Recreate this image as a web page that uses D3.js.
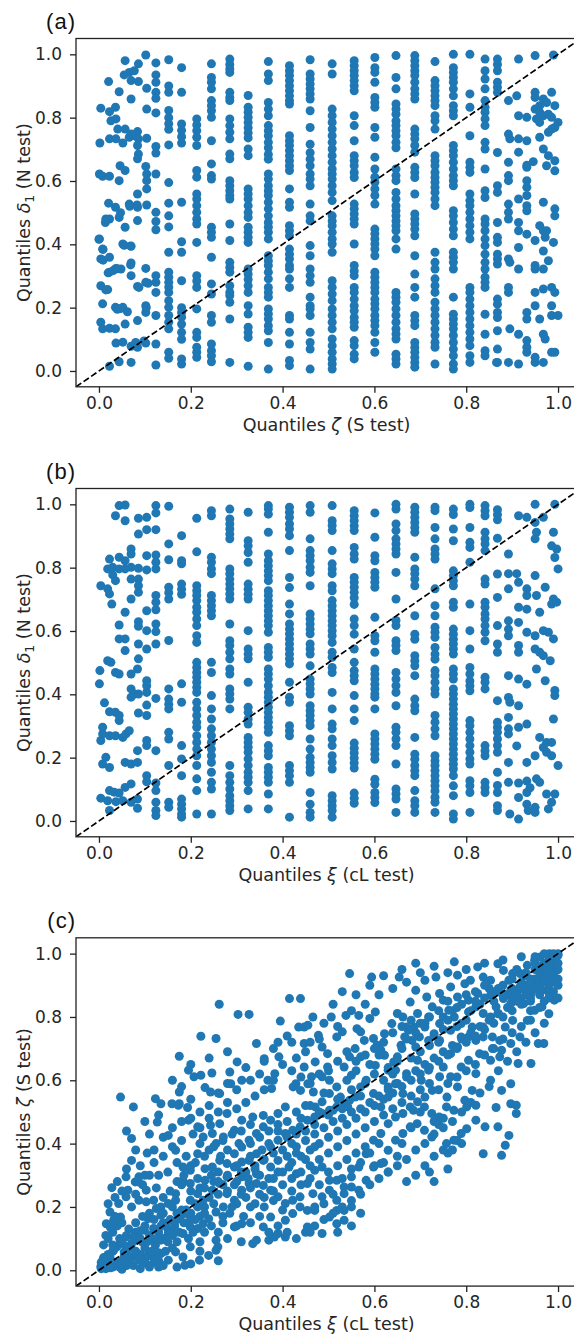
<!DOCTYPE html>
<html><head><meta charset="utf-8">
<script src="https://cdn.jsdelivr.net/npm/d3@7"></script>
<style>body{margin:0;background:#fff}svg{display:block}</style>
</head><body>
<svg id="chart" width="574" height="1338"></svg>
<script>
// ---------- DATA (values in percent of quantile) ----------
const tickValues = [0, 0.2, 0.4, 0.6, 0.8, 1.0];
const panelLabels = ["(a)", "(b)", "(c)"];

// Panel (a): discrete columns of the zeta quantile
const colsA_x = [12.4, 15.2, 18, 21.3, 24.5, 28.5, 32.5, 36.9, 41.5, 46, 50.8, 55.6, 60.1, 64.7, 68.8, 73.2, 77.2, 80.8, 84.1, 86.8];
const colsA_y = [
 [97.3,93.5,91.2,88,86.1,81.5,70.9,68.8,62.2,50.1,47.2,44.6,30.1,28,24.8,17.5,8.5,1.9],
 [98.3,90,88,82.3,80,78.1,76.3,71.4,59.5,53,49,45.5,37.5,31.2,29.6,28,26.5,24.8,22.2,20.1,17.5,15.4,13.3,5.9,4],
 [95.8,88,78,76,74,72,53.3,40.8,37.5,28.5,20,18.5,17,14.8,12.2,10,3.8,2.2],
 [79.6,77.7,75.9,73.8,71.2,63.3,61.2,55.9,54.3,52.2,50.1,48,46.4,40.6,30.1,28.4,26.4,19.6,12.2,10.6,7.5,5.9,4.3],
 [97,92.7,91.2,89.1,85.4,83.8,82.2,80.1,72.7,65.4,61.7,60.6,45.4,43.8,42.2,35.9,27.5,24.3,17.5,15.4,8.5,6.4,4.8,2.9],
 [98.5,96.8,95.4,94.3,88,86.4,85.4,79.6,77.5,75.4,73.3,68.5,67,60.1,58.5,56.9,55.4,54.3,46.4,41.2,34.3,32.7,31.2,26.9,24.8,23.8,21.7,16.4,2.7],
 [87,83.3,81.7,80.1,78.5,76.8,75.2,73.6,70.1,68,57.5,55.9,54.3,52.2,50.1,48.5,45.4,43.8,42.2,40.6,32.2,30.6,28.9,26.9,24.8,20.6,18,13.8,12.2,10.6,1.5],
 [97.7,93.8,91.7,84.8,82.7,80.6,77.5,75.9,74.3,72.2,70.5,68.4,66.9,62.2,60.6,58.5,56.9,55.4,53.3,51.2,49,46.9,45.4,43.8,41.7,36.4,34.8,33.3,31.2,29.1,26.4,24.8,23.3,19.6,18,16.4,14.3,12.7,9,0.6],
 [96.4,94.8,93.3,91.7,90.1,88.5,86.9,85.4,84.3,74.3,72.7,71.2,69.6,68,66.4,64.8,63.3,57.5,53.3,51.7,45.9,44.3,42.7,38.5,36.9,35.4,33.3,32.2,29.1,26.4,17.5,16.4,12.2,8.5,3.3,1.7],
 [98.3,93.8,92.2,90.6,89.1,87.5,85.9,82.2,76.9,71.6,68.9,66.9,64.8,62.2,60.6,58.5,52.7,49,47.4,39.6,36.4,32.2,30.1,28,23.3,20.6,19.6,17.5,12.2,9,6.9,0.6],
 [97,93.8,82.7,80.6,78.5,76.4,74.3,72.2,70.1,68,65.9,63.8,62.2,60.6,58.5,56.4,53.8,49,47.4,45.9,43.8,41.7,40.1,37.5,28.5,26.4,24.3,22.2,19.6,17.5,15.4,13.3,10.1,8,5.9,3.8,2.2,0.6],
 [98,96.4,94.8,93.3,91.7,90.1,88.5,80.6,77.5,72.7,68,66.4,64.8,62.7,61.1,52.7,51.2,49.6,48,46.4,40.1,33.3,31.6,30.1,26.4,24.8,22.7,20.6,19,16.9,15.4,13.8,9.6,8,5.3,3.8],
 [99,95.8,94.3,91.2,86.4,84.8,83.3,76.9,73.8,67.5,63.8,61.2,59.6,57.5,55.4,52.7,44.8,43.3,41.7,40.1,38.5,36.4,31.2,29.6,28,26.4,24.8,22.7,21.2,19.6,17.5,15.9,14.3,12.2,9,5.9],
 [99.6,92.7,89.1,84.3,82.7,81.1,79,77.5,75.9,74.3,72.2,70.5,63.8,61.7,60.1,56.4,54.3,52.2,50.6,49,47.4,45.9,44.3,41.7,38.5,24.8,23.3,21.7,19.6,17.5,15.4,13.3,11.7,10.1,5.3,3.8,2.2],
 [99.6,98,96.4,94.8,93.3,91.2,89.1,87.5,85.9,76.4,74.8,73.3,71.2,69.1,64.3,62.7,61.1,55.9,49.6,48,46.4,44.8,42.7,36.4,30.6,26.4,23.3,17.5,15.9,14.3,9,7.4,5.9,4.3,2.7,1.2],
 [97.7,91.7,90.1,88.5,86.9,85.4,83.8,80.6,79,76.4,68,66.4,64.8,62.7,61.1,59.6,58,56.4,54.3,52.2,37.5,34.3,32.2,29.1,26.9,24.8,21.7,19.6,17.5,15.4,13.3,11.2,9,7.5,2.2],
 [100,95.8,94.3,92.7,91.2,89.1,86.9,83.8,82.2,80.6,71.2,69.6,68,65.9,63.8,61.7,60.1,58.5,50.6,49,46.9,44.8,42.7,37.5,35.9,34.3,32.2,23.3,17.9,16.4,14.8,13.3,11.2,9,6.9,4.8,2.2,0.6],
 [100,87.5,83.3,74.3,65.9,64.3,62.7,55.9,53.8,52.2,50.1,48,45.9,43.8,41.7,26.4,24.8,22.7,20.6,18.5,16.4,14.3,12.2,10.1,8,4.8,2.7],
 [98.5,94.8,92.2,89.1,85.4,83.3,81.7,79.6,77.5,72.2,70.1,63.8,56.9,54.8,48,46.4,44.3,41.7,39.6,36.9,34.3,32.2,29.6,28,26.4,17.9,11.6,6.4,4.8],
 [98.5,96.8,94.8,91.2,89.6,88,69,58.5,56.4,46.9,42.2,40.6,36.9,35.4,33.8,22.7,21.1,18.5,16.9,12.7,6.9,2.7]
];
// Panel (a): scattered points at low and high zeta
const scatterA = [
 [10.2,99.8],[5.7,98],[8.6,97],[6.6,94.3],[5.5,93.5],[7.7,94.8],[2.1,91.4],[7,91.7],[8.6,91.4],[4.4,88.2],[10.4,89.3],[7,85.9],
 [0.4,83],[3.6,83.3],[10.4,82.7],[2.3,81.9],[2.6,79],[3.7,79.6],[4.1,76.4],[5.7,76.4],[7,74.8],[8.4,75.6],[0.2,72],[2.3,73.3],
 [3.7,73.3],[5.2,72],[6.6,73.8],[7.9,74.3],[8.6,73.3],[10.4,73.5],[8.4,71.2],[8.6,68.5],[8.4,67],[4.6,64.8],[5.7,63.3],[0.1,62.2],
 [0.8,61.5],[2.3,61.5],[4.4,60.1],[10.2,64.6],[10.4,62.2],[10.4,60.1],[10.4,57.5],[8.4,55.9],[2.1,53],[3.6,51.7],[6.6,52.7],
 [8.4,51.7],[10.4,52.4],[4.4,48.5],[2.3,48],[1.4,46.9],[5.7,45.4],[8.4,47.5],[0.1,41.7],[5.2,40.1],[7,39.4],[0.8,38.5],[0.4,35.4],
 [2.3,35.9],[7,34.1],[2.3,31.2],[3.7,32.4],[4.8,32.2],[7,30.1],[10.2,32.4],[0.4,26.9],[1.9,25.7],[8.4,26.7],[10.2,28],[0.8,21.2],
 [3.6,20.1],[5.2,20.1],[6.2,18.7],[10.2,20.6],[0.4,15.4],[0.8,13.3],[2.3,13.5],[3.6,13.3],[5.7,14.8],[8.4,15.9],[10.2,18.5],
 [3.7,8.8],[5.2,9.1],[7,7.8],[8.4,7.5],[10.2,8.8],[2.3,1.5],[4.4,2.9],[7,2.7],
 [0,41.6],[0.9,38.4],[0.9,35],[2,31],[3.1,31.7],[4,32.3],[5.5,39.7],[6.9,39.5],[6.9,33.5],[1.5,25.6],[4,19.5],[4.7,19.7],
 [8.7,26.4],[10.7,27.7],[10.3,20],[8,9],[9.8,9.5],[4.7,50],[6.7,52],[8.3,52.4],[1.5,48],
 [91.4,98.5],[91,86.9],[89.2,85.4],[91.4,80.6],[93.2,80.1],[89.2,74.8],[89.5,73.3],[91.4,73.3],[93.2,72.7],[91.4,69.1],[89.2,65.9],
 [93.2,65],[94.6,66.1],[89.2,61.7],[89.2,60.1],[93.2,60.1],[93.2,58],[93.2,55.4],[93.2,52.2],[93.2,50.6],[91.4,54.3],[89.2,52.7],
 [89.2,50.1],[89.2,48],[91.4,46.9],[91.4,44.3],[93.2,43.2],[95,41.2],[91.4,39],[89.2,35.4],[89.5,34.3],[91.4,32.2],[95,33.3],
 [95,32.2],[96.8,32.2],[89.2,26.4],[89.2,24.8],[95,24.8],[96.8,25.9],[98.6,26.4],[99.3,24.8],[95,20.6],[93.2,18.5],[93.2,16.4],
 [98.6,20.6],[98.6,17.5],[100,17.5],[96,16.4],[89.5,13.3],[91.4,11.6],[93.2,9.6],[93.2,7.5],[93.2,5.9],[95,4.3],[95,2.7],[91.4,2.2],
 [89.2,2.7],[86.6,2.7],[96.8,11.6],[97.2,10.1],[98.6,5.9],[99.3,5.9],[96.8,2.7],[95,99.6],[99,99.8],[98.6,88],[96.8,85.9],[97.5,84.8],
 [96,83.8],[95,82.7],[96,81.7],[96.8,80.6],[97.9,81.1],[98.6,80.1],[95.3,79.6],[96,78.5],[99.3,83.8],[100,78.5],[99.3,76.9],[98.6,76.4],
 [97.9,75.4],[96,73.8],[96.8,70.1],[97.9,68],[99.3,66.4],[99.3,63.2],[96.8,53.3],[99.3,51.2],[99.3,49],[96,45.9],[96.8,44.3],[97.5,44.3],
 [97.2,42.2],[99,40.6],[96.8,37.9],[97.9,34.8],[95,88],[95,86.4],[93.2,64.3],[97.5,64.8]
];

// Panel (b): discrete columns of the xi quantile
const colsB_x = [12.4, 15.2, 18, 21.3, 24.5, 28.5, 32.5, 36.9, 41.5, 46, 50.8, 55.6, 60.1, 64.7, 68.8, 73.2, 77.2, 80.8, 84.1, 86.8];
const colsB_y = [
 [99.6,97.3,92,84,81.7,79.6,71.2,69.1,66.7,62.2,59.8,55.9,38.7,22.2,12,9.6,5.9,3.3,1.7],
 [99.4,87.5,82.5,73.8,72.1,70.1,57,41.7,38.5,36.9,35.4,28,25.9,17.5,5.9,4.3],
 [90.1,82.2,81.2,74.8,73.2,71.6,43.3,37.5,23.8,19.6,14.3,6.9,5.3,3.8,2.2,1.2],
 [95.6,85,74.3,72.7,71.2,69.6,67.5,65.9,63.8,61.7,58.5,56.4,50.1,48.5,46.9,45.4,43.8,42.2,40.6,37.5,35.4,33.3,31.2,29.6,26.9,24.8,22.7,20.6,17.5,13.3,9.6,2.2],
 [98,96.4,83.3,81.7,79.6,78.1,71.2,69.6,68,66.4,64.8,50.1,46.9,39.6,35.4,32.2,29.1,26.9,24.8,22.7,20.6,18.5,15.4,12.2,10.1,2.2],
 [98.5,95.4,93.8,92.2,90.6,89.1,79.6,78.1,76.4,74.8,73.3,71.7,70.1,62.2,56.9,55.4,53.3,51.2,48,46.4,41.7,40.1,38.5,35.4,17.5,14.3,12.2,10.1,8,6.4,4.8,3.3],
 [97.5,88.5,86.9,84.8,81.7,74.8,73.2,71.6,70.1,60.1,54.3,52.7,51.2,43.8,35.9,34.3,32.2,30.6,26.4,24.8,23.3,21.7,19.6,17.5,15.4,13.8,12.2,9.6,3.8],
 [99.6,98.5,96.9,91.2,84.3,82.2,80.6,79,77.5,75.9,72.7,71.2,69.6,68,66.4,64.8,63.2,61.7,59.6,54.8,53.3,51.7,48,46.4,44.8,42.7,40.6,39.1,37.5,35.9,34.3,32.7,31.2,29.6,28,23.8,22.2,20.6,16.9,15.4,13.8,12.2,8.5,3.8],
 [99.1,97.5,95.9,93.8,92.2,90.1,85.4,76.9,73.7,68.5,65.4,62.2,60.6,59.1,57.5,55.9,54.3,52.7,51.2,49.6,43.8,39.1,37.5,30.1,28.5,26.9,17.5,15.9,14.3,12.2,1.2],
 [99.6,97.5,89.1,85.4,83.8,82.2,80.1,78.5,74.3,65.4,63.8,62.2,60.6,59.1,55.9,54.3,52.7,49,44.8,43.3,41.7,40.1,36.4,34.8,33.3,31.7,30.1,25.9,22.7,20.1,18.5,16.9,15.4,9,5.3,2.7,1.2],
 [99.6,94.8,93.3,91.7,85.4,81.2,79.6,78.1,74.3,72.7,69.6,68,66.4,64.8,63.2,61.7,60.1,58.5,56.4,53.3,51.7,48.5,46.9,40.6,35.4,30.6,29.1,25.9,23.8,20.6,18.5,16.4,8,6.4,4.8,3.3,1.2],
 [98,96.4,94.8,93.2,91.7,86.4,84.3,82.7,76.9,75.4,73.8,72.2,70.5,68.4,63.8,61.7,59,54.3,50.1,47.5,45.9,44.3,39.6,35.4,31.7,24.6,23,21.5,19.9,18.3,16.7,8.8,7.2,5.6],
 [97.3,89.6,83.8,82.2,78.5,76.9,75.4,73.8,64.3,58.5,56.9,53.3,48,46.4,44.8,43.2,41.7,40.1,39.1,35.4,27.5,25.9,24.3,22.7,21.1,19.5,13.2,11.6,9,7.4,5.8],
 [100,98.5,93.8,91.7,89.1,87.5,85.9,84.3,78.5,70.1,63.3,61.7,56.9,55.4,53.8,46.9,44.8,42.7,40.6,36.4,29.6,28,25.9,23.8,18,10.1,8.5,6.9,2.7],
 [99.1,97.5,95.9,94.3,92.7,91.2,83.3,79.6,78.1,76.4,74.3,64.8,59,57.4,52.2,50.6,49,45.9,38.5,36.4,34.8,26.4,21.1,19.5,17.5,15.9,14.3,9.6,6.4,4.8,2.7],
 [99.1,98,92.7,89.1,85.9,84.3,82.7,73.3,68,64.8,61.2,59.6,58,54.8,52.7,51.1,47.5,45.9,43.8,41.7,40.1,33.3,31.2,29.1,26.9,20.6,19,17.5,15.9,14.3,12.7,11.1,9.5,7.5,5.9,2.7],
 [98.5,96.8,92.2,88.5,79,77.5,75.9,74.3,69.1,67.5,60.6,59,57.4,55.9,54.3,52.7,48,46.4,44.8,41.7,40.1,38.5,36.9,35.4,33.8,32.2,30.6,29.1,27.5,25.9,24.3,22.7,21.1,19.5,17.9,16.4,14.3,11.1,8,2.2,0.6],
 [100,99,92.7,88,86.4,81.7,68.5,60.1,54.3,48.5,46.4,44.2,42.7,41.1,31.7,30.1,28,25.9,23.8,21.7,19.6,18,12.7,11.1,9,2.7],
 [99.6,98,96.4,91.2,89.1,87.5,85.4,76.4,74.8,69.1,67.5,65.4,63.8,61.7,59.6,56.9,45.4,43.8,41.7,23.8,22.2,20.6,12.2,10.6,9],
 [98.3,96.7,95.1,89.3,78,70.6,61.7,55.9,53.3,38,31.2,29.6,28,25.9,23.8,21.7,15.4,11.2,9,4.8,3.3]
];
const scatterB = [
 [4.4,99.6],[5.7,99.8],[3.6,96.4],[5.7,94.8],[8.6,95.6],[10.4,95.9],[10.4,92],[8.6,90.6],[7,85.9],[7,84.3],[2.3,82.7],[4.4,83.3],
 [5.7,82.2],[10.4,83.8],[1.9,79.6],[3,80.1],[4.4,79.6],[5.7,79.6],[7,80.1],[8.6,79.8],[10.4,79.3],[3,77.7],[3.6,75.9],[7,76.4],
 [8.6,76.4],[8.6,74.3],[0.4,74.3],[1.9,73.3],[2.3,71.7],[2.8,68.5],[7,70.1],[8.6,72.2],[10.4,66.4],[5.7,65.9],[4.4,61.9],[8.6,62.9],
 [8.6,61.5],[10.4,60.1],[4.4,57.5],[5.7,57.5],[5.7,53.8],[8.6,55.9],[10.4,54.3],[1.9,50.6],[2.6,50.1],[8.6,51.2],[8.4,48],[0.2,47.5],
 [3.6,46.9],[4.4,46.4],[7,46.4],[0.1,43.3],[10.4,44.3],[10.4,42.7],[7,41.7],[7.7,40.1],[8.6,40.1],[7,39.1],[10.4,40.6],[10.4,36.6],
 [8.6,34.1],[10.4,33.3],[1.2,37.3],[2.3,34.5],[3.6,34.3],[4.4,33.3],[4.4,31.7],[0.8,29.6],[0.8,27.5],[2.3,26.9],[3.6,26.9],[5.2,26.4],
 [5.9,27.5],[6.6,28.5],[0.4,25.4],[8.4,22.2],[10.4,25.4],[10.4,23.8],[1.5,20.1],[0.8,18],[2.3,16.9],[5.7,18.5],[7,18],[8.4,18.5],
 [10.4,14.3],[10.4,12.4],[2.3,9.6],[3.3,9.1],[4.4,8.8],[5.7,10.6],[7,11.7],[0.4,7.2],[1.9,6.4],[3.7,6.1],[5.2,6.4],[7,5.9],[8.4,6.9],
 [8.4,4],[2.3,3.3],
 [91.4,96.4],[93.2,95.9],[95,100],[95,94.3],[95.3,91.2],[95,89.1],[96.8,95.9],[99.3,100],[99,91.2],[98.6,86.9],[99.7,85.9],[99.3,83.2],
 [100,79.6],[89.2,84.3],[89.2,78.1],[91,78.1],[91.4,75.4],[93.2,73.3],[93.2,71.2],[89.2,73.3],[95,77.5],[97.2,73.8],[95.3,71.2],[99,70.1],
 [98.6,68.5],[99.7,69.1],[91.4,67.5],[93.2,66.9],[96,65.9],[89.2,63.2],[91.4,62.7],[93.2,59.6],[95,58.5],[96.8,60.1],[97.9,59.6],[99,57.5],
 [89.2,60.6],[89.2,58.5],[91.4,55.4],[91.4,53.3],[95,54.3],[96,53.3],[96.8,52.2],[95.3,48],[98.3,50.6],[89.2,45.9],[91.4,44.8],[93.2,43.2],
 [97.2,44.3],[99.3,41.2],[99.3,39.6],[89.2,39],[89.5,37.5],[91.4,36.4],[89.2,32.7],[91.4,29.6],[93.2,30.6],[99,32.2],[89.2,29.1],[89.2,27.5],
 [96,26.4],[97.5,24.8],[98.6,24.8],[96.8,23.2],[97.5,21.7],[98.6,20.6],[100,17.5],[91,23.7],[93.2,18.5],[95,20.6],[89.2,18.5],[91.4,12],
 [93.2,12.6],[93.9,10.5],[95.3,13.3],[96,12.2],[89.2,12.2],[91.4,7.4],[93.2,9],[93.2,5.3],[95,4.3],[95,2.7],[97.5,8.5],[99.3,8.5],
 [98.6,5.9],[97.9,3.8],[89.5,2.2],[91.4,0.6],[93.5,3.3]
];

// Panel (c): continuous cloud (xi quantile, zeta quantile)
const cloudUpper = [
 [26.2,84],[30.3,80.8],[32.7,80.8],[22.2,73.9],[25.5,73.2],[17.5,67.6],[19.5,63.2],[20.7,61.1],[22.2,61.6],[24.6,62.3],[23.1,57.7],
 [24.3,56.3],[26.3,55.8],[28.5,62.6],[28.7,58.9],[30.1,65.8],[31.1,60],[34.3,71.6],[36,66.8],[36.8,60],[37.6,57.4],[38.3,62.1],
 [39.2,67.4],[39.5,78.7],[41.5,85.8],[43.9,85.8],[43.5,76.8],[44.7,76.8],[45.5,77.4],[46.6,80],[44.7,71.6],[44.7,64.2],[42.9,58.9],
 [42.3,57.9],[43.9,56.8],[45.5,58.9],[46.7,56.3],[47.8,74.2],[48.6,70.5],[49.8,64.2],[50.2,60],[50.6,80],[51.8,73.7],[53,75.3],
 [53.8,80.5],[54.6,93.7],[54.6,67.4],[55,61.6],[55.8,70],[56.2,76.3],[56.6,80.5],[57,75.3],[57.8,72.6],[59,79.5],[59.8,73.2],
 [60.2,64.7],[60.6,71.1],[61.4,69.5],[62.2,67.9],[63,63.2],[64.2,65.8],[65,67.4],[65.8,71.1],[66.6,73.7],[67.4,75.8],[68.2,72.6],
 [69,70.5],[69.8,73.7],[71,76.8],[71.8,72.6],[73,74.7],[74.2,77.9],[75,80],[76.2,82.1],[77.4,80],[78.9,77.9],[80.5,81.6],[82.1,83.2],
 [83.7,81.1],[85.3,80],[86.5,83.2],[88.1,85.8],[89.7,84.2],[91.3,86.3],[93.3,88.4],[94.9,90.5],[96.5,93.7],[98.1,96.8],[99.6,98.9],
 [98.9,98.4],[97.7,95.8],[95.7,91.6],[94.1,87.4],[92.5,84.2],[96.5,88.4],[98.5,91.6],[99.6,94.7],[99.2,85.3],[98.1,87.4],[94.9,82.1],
 [93.3,78.9],[91.7,73.7],[89.7,71.6],[87.7,69.5],[87.3,67.4],[85.3,66.3],[82.9,68.4],[80.5,73.7],[78.1,70.5],[76.6,68.4],[75,64.2],
 [74.2,61.1],[72.6,56.8],[71,54.7],[69.4,53.2],[67.8,51.6],[66.2,55.8],[64.6,58.9],[63,54.7],[61.4,51.6],[59.8,55.8],[58.2,60],
 [57,57.9],[55.8,54.7],[54.2,51.6],[52.6,54.7],[51,50.5],[50.2,55.8],[48.6,53.2],[47.1,51.6],[59.4,92.6],[60.2,81.6],[65,81.1],
 [65.4,92.6],[67.8,84.7],[69,88.4],[71,91.6],[73.4,92.6],[71.4,86.3],[74.2,87.4],[76.6,89.5],[77.4,97.4],[78.1,93.2],[79.7,90.5],
 [80.9,91.6],[82.5,95.8],[83.7,92.6],[85.3,91.6],[86.9,96.8],[88.1,94.7],[89.3,91.6],[90.1,93.7],[91.7,93.7],[93.3,96.3],[94.9,97.9],
 [96.1,98.9],[96.9,94.7],[98.1,100],[100,99.5],[91.7,89.5],[89.7,88.4],[87.3,87.9],[85.3,86.8],[82.5,87.4],[82.1,72.6],[83.7,73.7],
 [85.7,73.7],[87.3,72.6],[85.7,70],[90.1,78.9],[91.3,65.3],[94.1,65.3],[95.7,71.6],[96.9,71.6],[96.5,83.2],[88.5,76.8],[86.9,81.1],
 [80.5,66.3],[78.9,64.2],[76.6,61.1],[78.1,57.9],[75.8,54.7],[82.1,62.1],[85.3,60],[87.7,56.8],[89.7,52.6],[90.9,49.5],[89.7,58.9],
 [79.7,53.7],[81.3,56.8],[70.2,60],[71.8,63.2],[69.4,66.3],[67,62.1],[64.6,63.2],[63,57.9],[62.2,74.7],[63.8,77.9],[66.2,80],
 [69.4,81.1],[72.6,83.2],[75,85.3],[78.1,86.3],[80.5,85.3],[57,67.4],[53.4,64.2],[51.8,57.9],[49.8,68.4],[47.1,65.8],[46.3,61.1],
 [48.6,61.1],[68.6,76.8],[67,76.8],[71.8,80],[74.2,72.6],[76.6,75.8],[78.9,73.7],[81.3,76.8],[83.7,76.8],
 [4.7,54.7],[7.5,51.6],[12.3,54.2],[13.5,52.6],[17.5,56.3],[17.5,52.6]
];
const cloudLower = [
 [2.8,26.1],[4.3,21.1],[2.4,18.4],[1.6,14.7],[3.2,15.8],[4.7,16.8],[5.9,23.2],[5.9,29.5],[7.9,27.9],[8.6,27.9],[6.3,25.3],[7.1,20],
 [8.7,22.1],[10.3,21.6],[10.7,16.3],[9.9,12.6],[11.9,13.2],[13.5,17.4],[14.7,14.7],[16.7,22.1],[17.9,17.4],[19.1,17.9],[19.9,15.8],
 [21.5,20],[22.7,22.1],[24.7,25.3],[26.3,27.4],[27.9,29.5],[29.5,32.6],[31.1,34.2],[32.7,34.7],[34.3,36.8],[35.8,34.7],[37.4,38.9],
 [39,41.1],[40.6,43.2],[42.2,44.2],[43.8,45.3],[45.4,47.4],[47,48.4],[48.6,49.5],[50.2,50.5],[51.8,51.6],[53.4,52.6],[54.6,53.7],
 [4.7,8.4],[5.5,5.8],[7.1,4.2],[8.7,3.2],[10.3,2.1],[11.9,4.2],[13.5,5.3],[15.1,3.2],[16.7,5.8],[18.3,4.2],[19.9,7.4],[21.9,3.2],
 [23.9,4.7],[25.5,9.5],[25.9,7.4],[0.8,2.1],[0.4,1.1],[1.6,3.2],[2.4,4.2],[3.2,6.3],[3.9,7.4],[4.7,8.9],[5.9,10.5],[7.1,8.4],
 [8.3,9.5],[9.5,8.9],[11.1,9.5],[12.3,7.9],[13.5,9.5],[15.1,11.6],[16.7,12.1],[18.3,11.6],[19.9,13.7],[21.5,13.2],[22.7,14.7],
 [23.9,16.3],[25.5,18.4],[27.1,20],[27.9,24.2],[29.5,22.1],[31.1,25.3],[32.7,27.4],[34.3,30.5],[35.8,26.8],[37.4,25.3],[39,23.2],
 [40.6,21.1],[42.2,22.1],[43.8,20],[45.4,18.9],[47,20],[48.6,23.2],[50.2,25.3],[51.8,28.4],[53.4,26.3],[55,29.5],[56.6,32.6],
 [58.2,36.8],[59.8,41.1],[61.4,43.2],[63,46.3],[64.6,48.4],[66.2,49.5],[68.5,50.5],[70.9,51.6],[72.5,49.5],[74.1,48.4],[75.7,51.6],
 [77.3,50.5],[80.1,51.6],[82.1,52.1],[86.5,51.4],[90.9,52.1],[34.3,9.5],[35.8,13.7],[37.4,16.8],[39,11.6],[40.6,10.5],[42.2,17.9],
 [43.8,23.2],[45.4,27.4],[47,31.6],[48.6,32.6],[50.2,28.4],[51.8,22.1],[53.4,24.2],[55,26.3],[56.6,25.3],[58.2,28.4],[59.8,32.6],
 [61.4,33.7],[63,37.9],[64.6,41.1],[66.2,43.2],[67.8,45.3],[69.3,46.3],[70.9,44.2],[72.5,42.1],[75.7,40],[77.3,41.1],[78.9,43.2],
 [80.1,44.7],[83.7,36.8],[89.3,42.6],[88.5,39.5],[87.7,36.3],[84.1,45.3],[82.1,47.4],[86.9,45.3],[15.1,42.6],[16.7,37.9],[18.3,32.6],
 [19.9,27.4],[23.1,32.1],[26.3,34.7],[29.5,36.8],[31.1,38.9],[32.7,41.1],[34.3,43.2],[35.8,45.3],[37.4,47.4],[39,49.5],[40.6,51.6],
 [29.5,44.2],[31.1,47.4],[27.9,49.5],[26.3,46.3],[24.7,43.2],[22.7,42.1],[21.5,36.8],[19.9,31.6],[18.3,28.4],[16.7,24.2],[15.1,21.1],
 [13.5,20],[11.9,22.1],[10.3,25.3],[8.7,29.5],[7.1,34.7],[12.7,46.8],[15.9,52.6],[17.3,52.1],[19.3,51.4],[19.5,47.4],[21.5,45.3],
 [24.3,45.8],[60,33],[62,34],[63,31],[65,36],[72,31],[73,28],[76,32],[76,37],[78,41],[74,46],[73,47],[75,48],[70,50],[68,45],[66,40],
 [50.2,16.8],[51.8,14.7],[53.4,18.9],[55,20],[33.5,48.4],[35.8,48.9],[25.5,40],[27.1,42.1],[18.7,1.6],
 [25.5,6.3],[29.5,13.7],[31.1,14.7],[33.5,8.4],[37,9.5],[38.2,10.5],[40.6,15.8],[45.4,13.7],[47,18.9],[48.6,11.6],[51.8,18.9],
 [53.4,15.8],[46.6,24.2],[43,30.5],[41.4,32.6],[39,34.7],[37.4,32.6],[34.3,27.4],[31.1,29.5],[27.9,33.7],[24.7,32.6],[23.1,28.4],
 [21.5,24.2],[19.9,22.1],[7.1,41.6]
];
const cloudBand = [
 [1,1],[2,2],[1.5,0.5],[3,1],[4,2],[5,3],[6,1.5],[2,5],[3,6],[1,4],[0.5,2.5],[6,6],[7,7],[8,6],[9,5],[10,7],[5,9],[6,11],[8,12],
 [9,10],[11,11],[12,13],[13,12],[14,10],[10,14],[12,16],[14,15],[3,12],[2,10],[4,14],[1,8],[13,3],[11,1],[14,1.5],[16,7],[17,9],
 [15,13],[17,16],[18,19],[16,20],[20,18],[21,21],[22,17],[23,20],[24,23],[18,27],[20,25],[22,26],[26,24],[25,28],[27,27],[28,30],
 [26,31],[30,28],[32,31],[30,33],[34,33],[33,36],[36,35],[35,30],[38,37],[37,40],[40,38],[42,40],[39,44],[43,43],[45,44],[44,48],
 [47,46],[48,50],[46,52],[50,49],[52,54],[49,56],[53,51],[55,57],[54,60],[57,55],[58,59],[56,63],[60,62],[62,60],[59,65],[63,64],
 [61,68],[65,66],[64,62],[66,70],[68,67],[67,73],[70,69],[72,71],[69,75],[73,74],[71,78],[75,76],[74,72],[76,79],[78,77],[77,82],
 [80,79],[79,84],[81,82],[83,84],[82,88],[84,86],[86,85],[85,89],[88,90],[90,92],[92,91],[93,94],[95,95],[96,96],[97,97],[98,98],
 [99,99],[97,93],[95,92],[93,90],[91,88],[89,87],[92,86],[94,89],[96,90],[98,94],[99,96],[100,97],[97,100],[99,100],[95,99],[91,95],
 [93,93],[87,89],[90,86],[94,85],[96,87],[98,89],[100,92],[100,95],[99,88],[97,85],[94,82]
];
const cloudDense = [
 [0.5,0.5],[1.5,1.5],[2.5,0.8],[3.5,2.5],[0.8,3],[2,3.5],[4.5,1],[5.5,4.5],[6.5,3],[7.5,1.5],[8.5,4],[9.5,2.5],[10.5,4.5],[12,2.5],
 [13,5.5],[14.5,6],[3,8],[4.5,10],[6,7.5],[7.5,10.5],[9,12.5],[10.5,9],[11.5,6],[12.5,10],[13.5,14],[15,9],[16,11],[16.5,14],
 [1.5,11],[2.5,13.5],[3.5,17],[5,15],[6.5,13],[8,15],[9.5,17],[11,18],[12.5,19.5],[14,18],[15.5,16],[17.5,12],[18.5,15],[19.5,10],
 [20.5,12],[22,9],[23,12],[24.5,14],[26,12],[27,15],[28.5,18],[30,14],[31.5,17],[33,20],[2,21],[3.5,23],[5,25],[4,28],[6,32],[8,24],
 [9.5,27],[11,30],[12.5,26],[14,23],[15.5,25],[17,28],[18.5,30],[20,33],[21.5,29],[23,26],[24.5,30],[26,28],[28,25],[29.5,27],
 [31,31],[32.5,29],[34,32],[35.5,38],[33,40],[30.5,40],[28,38],[26.5,36],[24,38],[22,40],[20.5,43],[18,41],[16,39],[14,36],[12,34],
 [10.5,37],[9,33],[13,30],[15,31],[17,34],[19,36],[21,34],[23,36],[25,39],[27,41],[29,43],[31,44],[33,46],[35,42],[37,44],[39,46],
 [41,47],[43,50],[45,52],[41,42],[43,39],[45,41],[47,43],[49,45],[51,47],[53,48],[55,50],[57,51],[59,53],[61,55],[63,57],[65,59],
 [67,61],[69,63],[71,65],[73,67],[75,69],[77,71],[79,73],[81,75],[83,77],[85,79],[87,81],[89,83],[91,85],[93,87],[95,89],[97,91],
 [99,93],[100,90],[98,86],[96,83],[94,79],[92,77],[90,75],[88,73],[86,70],[84,68],[82,65],[80,63],[78,61],[76,59],[74,57],[72,59],
 [70,57],[68,55],[66,53],[64,51],[62,49],[60,47],[58,45],[56,43],[54,41],[52,39],[50,37],[48,35],[46,33],[44,31],[42,29],[40,27],
 [38,25],[36,23],[34,21],[32,23],[30,21],[38,29],[40,31],[42,34],[44,36],[46,38],[48,40],[50,42],[52,44],[54,46],[56,48],[58,50],
 [60,52],[62,54],[64,56],[66,58],[68,60],[70,62],[72,64],[74,66],[76,68],[78,70],[80,72],[82,74],[84,76],[86,78],[88,80],[90,82],
 [92,84],[94,86],[96,88],[98,91],[100,100],[98,96],[96,94],[94,92],[92,89],[90,89],[88,87],[86,88],[84,90],[82,85],[80,87],[78,83],
 [76,85],[74,82],[72,80],[70,78],[68,79],[66,77],[64,75],[62,72],[60,70],[58,68],[56,66],[54,69],[52,66],[50,63],[48,62],[46,59],
 [44,61],[42,63],[40,65],[38,60],[36,57],[34,55],[32,53],[30,51],[28,53],[26,50],[24,48],[22,50],[20,54],[18,58],[16,60],[20,65],
 [24,67],[28,69],[32,64],[35,62],[38,70],[42,72],[45,69],[48,73],[52,77],[55,82],[58,84],[61,87],[64,89],[67,91],[70,94],[73,96],
 [76,94],[80,95],[84,97],[88,98],[92,99],[95,97],[97,95],[99,91],[100,86],[98,81],[97,78],[95,75],[93,72],[91,69],[89,66],[87,63],
 [85,58],[83,56],[81,53],[79,50],[77,47],[75,45],[73,43],[71,40],[69,38],[67,35],[65,33],[63,31],[61,29],[59,27],[57,24],[55,22],
 [53,20],[51,18],[49,16],[47,14],[45,12],[43,10],[41,12],[39,14],[37,12],[35,17],[33,15],[67,28],[69,30],[71,33],[73,36],[75,38],
 [77,38],[79,40],[57,18],[55,14],[52,12],[46,12],[31,9],[28,10],[26,3],[22,6],[20,2],[17,1],[13,1],[9,0.5],[5,0.3],
 [36,20],[38,22],[40,19],[42,25],[44,27],[46,29],[48,27],[50,31],[52,33],[54,35],[56,37],[58,39],[49,21],[51,24],[53,29],[55,32],
 [57,34],[59,37],[61,40],[37,29],[39,31],[41,36],[43,37],[45,35],[47,39],[35,24],[33,26],[31,24],[29,20],[27,17],[25,21],[23,18],
 [21,16],[19,19],[17,18],[10,30],[12,38],[14,42],[16,45],[18,47],[20,48],[22,45],[24,52],[26,56],[28,59],[30,57],[33,60],[36,66],
 [39,72],[41,74],[43,67],[46,72],[49,78],[51,84],[53,88],[56,87],[59,90],[62,93],[66,95],[69,97],[8,38],[6,44],[10,47],[13,49],[11,43]
];

// ---------- BUILD POINT SETS ----------
function fromColumns(xs, ys) {
  const out = [];
  xs.forEach((xv, i) => ys[i].forEach(yv => out.push([xv, yv])));
  return out;
}
const panelData = [
  fromColumns(colsA_x, colsA_y).concat(scatterA),
  fromColumns(colsB_x, colsB_y).concat(scatterB),
  cloudUpper.concat(cloudLower, cloudBand, cloudDense)
];

// ---------- LAYOUT ----------
const W = 574;
const left = 76, right = 581, axH = 348.3;
const tops = [38.5, 488.5, 937.8];
const dotColor = "#1f77b4";
const svg = d3.select("#chart");
svg.append("rect").attr("width", W).attr("height", 1338).attr("fill", "#fff");

function addYLabel(g, cx, cy, greek, sub, tail) {
  const t = g.append("text")
    .attr("transform", `translate(${cx},${cy}) rotate(-90)`)
    .attr("text-anchor", "middle")
    .attr("font-family", "DejaVu Sans")
    .attr("font-size", 17.5)
    .attr("fill", "#262626");
  t.append("tspan").text("Quantiles ");
  t.append("tspan").attr("font-style", "italic").text(greek);
  if (sub) t.append("tspan").attr("font-size", 12.5).attr("dy", 4).text(sub);
  t.append("tspan").attr("dy", sub ? -4 : 0).text(" " + tail);
}
function addXLabel(g, cx, cy, greek, tail) {
  const t = g.append("text")
    .attr("x", cx).attr("y", cy)
    .attr("text-anchor", "middle")
    .attr("font-family", "DejaVu Sans")
    .attr("font-size", 17.5)
    .attr("fill", "#262626");
  t.append("tspan").text("Quantiles ");
  t.append("tspan").attr("font-style", "italic").text(greek);
  t.append("tspan").text(" " + tail);
}

const xLabelParts = [["\u03B6", "(S test)"], ["\u03BE", "(cL test)"], ["\u03BE", "(cL test)"]];
const yLabelParts = [["\u03B4", "1", "(N test)"], ["\u03B4", "1", "(N test)"], ["\u03B6", "", "(S test)"]];

panelData.forEach((pts, i) => {
  const top = tops[i], bottom = top + axH;
  const x = d3.scaleLinear().domain([-0.05, 1.05]).range([left, right]);
  const y = d3.scaleLinear().domain([-0.05, 1.05]).range([bottom, top]);
  const g = svg.append("g");

  const clipId = "clip" + i;
  g.append("clipPath").attr("id", clipId).append("rect")
    .attr("x", left).attr("y", top).attr("width", right - left).attr("height", axH);

  const plot = g.append("g").attr("clip-path", `url(#${clipId})`);
  plot.selectAll("circle").data(pts).enter().append("circle")
    .attr("cx", d => x(Math.min(d[0], 100) / 100))
    .attr("cy", d => y(Math.min(d[1], 100) / 100))
    .attr("r", 4.5)
    .attr("fill", dotColor);

  plot.append("line")
    .attr("x1", x(-0.05)).attr("y1", y(-0.05))
    .attr("x2", x(1.05)).attr("y2", y(1.05))
    .attr("stroke", "#000").attr("stroke-width", 1.7)
    .attr("stroke-dasharray", "6.4,2.8");

  const xa = g.append("g").attr("transform", `translate(0,${bottom})`)
    .call(d3.axisBottom(x).tickValues(tickValues).tickFormat(d3.format(".1f")).tickSize(6).tickPadding(4));
  const ya = g.append("g").attr("transform", `translate(${left},0)`)
    .call(d3.axisLeft(y).tickValues(tickValues).tickFormat(d3.format(".1f")).tickSize(6).tickPadding(8));
  [xa, ya].forEach(a => {
    a.select(".domain").remove();
    a.selectAll("line").attr("stroke", "#222").attr("stroke-width", 1.3);
    a.selectAll("text").attr("font-family", "DejaVu Sans").attr("font-size", 17).attr("fill", "#262626");
  });

  g.append("rect").attr("x", left).attr("y", top).attr("width", right - left).attr("height", axH)
    .attr("fill", "none").attr("stroke", "#222").attr("stroke-width", 1.3);

  addXLabel(g, (left + right) / 2 - 2, bottom + 44, xLabelParts[i][0], xLabelParts[i][1]);
  addYLabel(g, 30, (top + bottom) / 2, yLabelParts[i][0], yLabelParts[i][1], yLabelParts[i][2]);

  g.append("text").attr("x", 76).attr("y", top - 10)
    .attr("text-anchor", "end")
    .attr("font-family", "Liberation Sans").attr("font-size", 22).attr("letter-spacing", 1)
    .attr("fill", "#111")
    .text(panelLabels[i]);
});
</script>
</body></html>
